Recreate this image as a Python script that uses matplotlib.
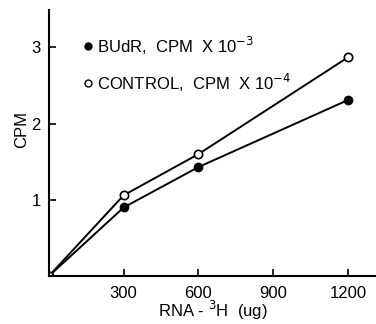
import matplotlib
matplotlib.use("Agg")
import matplotlib.pyplot as plt

plt.rcParams['font.family'] = ['Liberation Sans', 'DejaVu Sans']

rna = [0, 300, 600, 1200]
budr = [0, 0.90, 1.43, 2.31]
control = [0, 1.06, 1.60, 2.87]

fig = plt.figure(figsize=(3.76, 3.24), dpi=100)
ax = fig.add_axes([0.130, 0.148, 0.87, 0.821])

ax.plot(rna, budr, color='black', lw=1.4, marker='o', ms=6, mfc='black', mec='black')
ax.plot(rna, control, color='black', lw=1.4, marker='o', ms=6, mfc='white', mec='black', mew=1.2)

ax.set_xlim(0, 1312)
ax.set_ylim(0, 3.49)
ax.set_xticks([300, 600, 900, 1200])
ax.set_xticklabels(['300', '600', '900', '1200'])
ax.set_yticks([1, 2, 3])
ax.set_yticklabels(['1', '2', '3'])
ax.tick_params(direction='in', length=5, width=1.2, labelsize=12, pad=7)
ax.tick_params(axis='y', pad=6)
for s in ['top', 'right']:
    ax.spines[s].set_visible(False)
for s in ['left', 'bottom']:
    ax.spines[s].set_linewidth(1.5)

ax.set_xlabel(r'RNA - $^{3}$H  (ug)', fontsize=12, labelpad=-1)
ax.set_ylabel('CPM', fontsize=12, labelpad=2)
ax.yaxis.set_label_coords(-0.06, 0.55)

ax.plot([155], [3.02], 'o', color='black', ms=5, clip_on=False)
ax.text(195, 3.02, r'BUdR,  CPM  X 10$^{-3}$', fontsize=12, va='center')
ax.plot([155], [2.53], 'o', mfc='white', mec='black', ms=5, clip_on=False)
ax.text(195, 2.53, r'CONTROL,  CPM  X 10$^{-4}$', fontsize=12, va='center')

fig.savefig('out.png', dpi=100)
